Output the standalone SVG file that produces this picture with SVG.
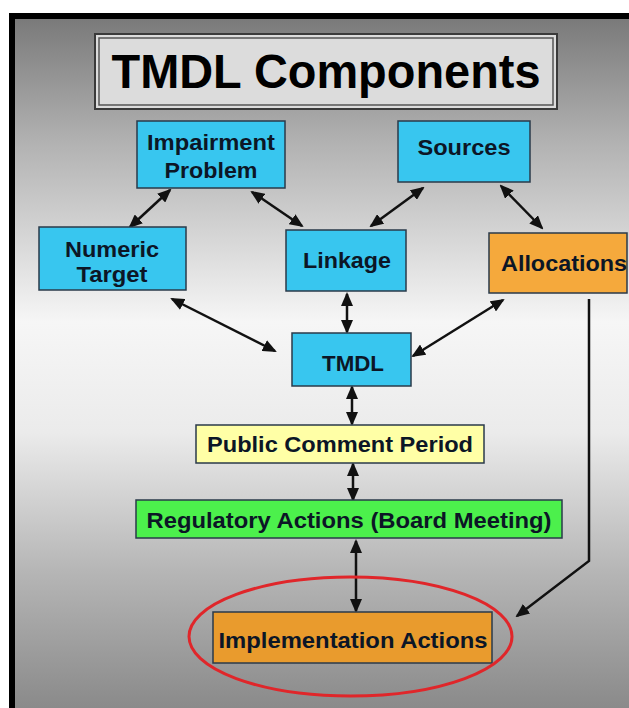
<svg xmlns="http://www.w3.org/2000/svg" width="629" height="708" viewBox="0 0 629 708">
<defs>
<linearGradient id="bg" x1="0" y1="19" x2="0" y2="708" gradientUnits="userSpaceOnUse">
<stop offset="0" stop-color="#7a7a7a"/>
<stop offset="0.18" stop-color="#b2b2b2"/>
<stop offset="0.44" stop-color="#f6f6f6"/>
<stop offset="0.6" stop-color="#ebebeb"/>
<stop offset="0.8" stop-color="#b6b6b6"/>
<stop offset="1" stop-color="#8a8a8a"/>
</linearGradient>
<marker id="ah" markerUnits="userSpaceOnUse" markerWidth="14" markerHeight="12" refX="12" refY="6" orient="auto-start-reverse">
<path d="M0,0 L14,6 L0,12 z" fill="#111"/>
</marker>
</defs>
<style>
.bx{stroke:#2a3a4a;stroke-width:1.5}
.cy{fill:#38c6ef}
.or{fill:#f5a93c}
.or2{fill:#e99b2d}
.ye{fill:#ffffa6}
.gr{fill:#4cf04c}
.t{font-family:"Liberation Sans",Arial,sans-serif;font-weight:bold;font-size:22px;fill:#0c1626;text-anchor:middle}
.c{stroke:#111;stroke-width:2.5;fill:none}
</style>
<rect x="0" y="0" width="629" height="708" fill="#fff"/>
<rect x="9" y="13" width="620" height="695" fill="#000"/>
<rect x="15" y="19" width="614" height="689" fill="url(#bg)"/>

<g id="title">
<rect x="95" y="34" width="462" height="75" fill="#dcdcdc" stroke="#3a3a3a" stroke-width="2"/>
<rect x="99" y="38" width="454" height="67" fill="none" stroke="#555" stroke-width="1.5"/>
<text x="326" y="88" font-family="'Liberation Sans',Arial,sans-serif" font-weight="bold" font-size="49" fill="#000" text-anchor="middle" textLength="429" lengthAdjust="spacingAndGlyphs">TMDL Components</text>
</g>

<g id="connectors">
<line class="c" x1="170" y1="190" x2="130" y2="227" marker-start="url(#ah)" marker-end="url(#ah)"/>
<line class="c" x1="252" y1="192" x2="302" y2="226" marker-start="url(#ah)" marker-end="url(#ah)"/>
<line class="c" x1="423" y1="188" x2="371" y2="226" marker-start="url(#ah)" marker-end="url(#ah)"/>
<line class="c" x1="501" y1="186" x2="542" y2="228" marker-start="url(#ah)" marker-end="url(#ah)"/>
<line class="c" x1="172" y1="299" x2="275" y2="351" marker-start="url(#ah)" marker-end="url(#ah)"/>
<line class="c" x1="347" y1="294" x2="347" y2="332" marker-start="url(#ah)" marker-end="url(#ah)"/>
<line class="c" x1="503" y1="300" x2="413" y2="356" marker-start="url(#ah)" marker-end="url(#ah)"/>
<line class="c" x1="352" y1="387" x2="352" y2="424" marker-start="url(#ah)" marker-end="url(#ah)"/>
<line class="c" x1="353" y1="464" x2="353" y2="500" marker-start="url(#ah)" marker-end="url(#ah)"/>
<line class="c" x1="356" y1="541" x2="356" y2="611" marker-start="url(#ah)" marker-end="url(#ah)"/>
<polyline class="c" points="589,299 589,561 517,616" marker-end="url(#ah)"/>
</g>

<g id="impairment">
<rect class="bx cy" x="137" y="121" width="148" height="67"/>
<text class="t" x="211" y="150" textLength="128" lengthAdjust="spacingAndGlyphs">Impairment</text>
<text class="t" x="211" y="178" textLength="93" lengthAdjust="spacingAndGlyphs">Problem</text>
</g>
<g id="sources">
<rect class="bx cy" x="398" y="121" width="132" height="61"/>
<text class="t" x="464" y="155" textLength="93" lengthAdjust="spacingAndGlyphs">Sources</text>
</g>
<g id="numeric">
<rect class="bx cy" x="39" y="227" width="147" height="63"/>
<text class="t" x="112" y="257" textLength="94" lengthAdjust="spacingAndGlyphs">Numeric</text>
<text class="t" x="112" y="282" textLength="71" lengthAdjust="spacingAndGlyphs">Target</text>
</g>
<g id="linkage">
<rect class="bx cy" x="286" y="230" width="120" height="61"/>
<text class="t" x="347" y="268" textLength="88" lengthAdjust="spacingAndGlyphs">Linkage</text>
</g>
<g id="allocations">
<rect class="bx or" x="489" y="233" width="138" height="60"/>
<text class="t" x="564" y="271" textLength="126" lengthAdjust="spacingAndGlyphs">Allocations</text>
</g>
<g id="tmdl">
<rect class="bx cy" x="292" y="333" width="119" height="53"/>
<text class="t" x="353" y="371" textLength="62" lengthAdjust="spacingAndGlyphs">TMDL</text>
</g>
<g id="public">
<rect class="bx ye" x="196" y="425" width="288" height="38"/>
<text class="t" x="340" y="452" textLength="266" lengthAdjust="spacingAndGlyphs">Public Comment Period</text>
</g>
<g id="regulatory">
<rect class="bx gr" x="136" y="500" width="426" height="38"/>
<text class="t" x="349" y="528" textLength="405" lengthAdjust="spacingAndGlyphs">Regulatory Actions (Board Meeting)</text>
</g>
<g id="implementation">
<rect class="bx or2" x="213" y="612" width="279" height="51"/>
<text class="t" x="353" y="648" textLength="269" lengthAdjust="spacingAndGlyphs">Implementation Actions</text>
<ellipse cx="350.5" cy="636.5" rx="161.5" ry="59.5" fill="none" stroke="#e0262a" stroke-width="3"/>
</g>
</svg>
